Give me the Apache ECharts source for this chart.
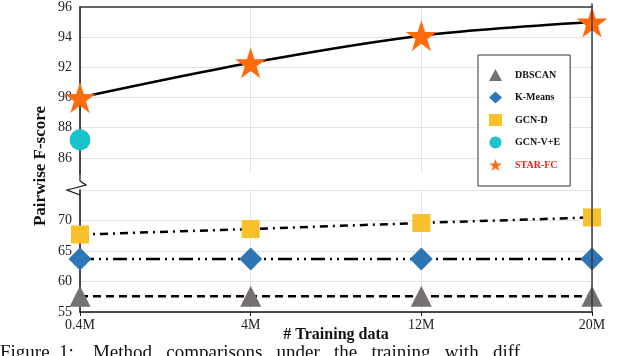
<!DOCTYPE html>
<html>
<head>
<meta charset="utf-8">
<script src="https://cdn.jsdelivr.net/npm/echarts@6/dist/echarts.min.js"></script>
<style>
  html, body { margin: 0; padding: 0; background: #fff; }
  #chart { width: 626px; height: 356px; }
</style>
</head>
<body>
<div id="chart"></div>
<script>
  var categories = ['0.4M', '4M', '12M', '20M'];
  var dbscan = [57.6, 57.6, 57.6, 57.6];
  var kmeans = [63.7, 63.7, 63.7, 63.7];
  var gcnD = [67.7, 68.6, 69.6, 70.5];
  var gcnVE = [87.2, null, null, null];
  var starFC = [90.0, 92.3, 94.1, 95.0];

  var serif = 'Liberation Serif';
  var star = 'path://M50,0 L61.8,35.1 L98.9,35.1 L68.9,56.8 L80.3,91.9 L50,70.2 L19.7,91.9 L31.1,56.8 L1.1,35.1 L38.2,35.1 Z';
  var frame = '#3a3a3a';
  var gridLine = '#e3e3e3';

  var myChart = echarts.init(document.getElementById('chart'));
  var option = {
    animation: false,
    grid: [
      { left: 80, right: 34, top: 3.5, height: 169.5 },
      { left: 80, right: 34, top: 190, height: 122 }
    ],
    xAxis: [
      {
        gridIndex: 0, type: 'category', data: categories, boundaryGap: false, position: 'top',
        axisLine: { lineStyle: { color: frame, width: 1.5 } },
        axisTick: { show: false }, axisLabel: { show: false },
        splitLine: { show: true, lineStyle: { color: gridLine } }
      },
      {
        gridIndex: 1, type: 'category', data: categories, boundaryGap: false,
        axisLine: { lineStyle: { color: '#111', width: 1.5 } },
        axisTick: { show: true, length: 4, lineStyle: { color: '#111' } },
        axisLabel: { fontFamily: serif, fontSize: 14, color: '#222', margin: 6 },
        splitLine: { show: true, lineStyle: { color: gridLine } },
        name: '# Training data', nameLocation: 'middle', nameGap: 15, nameMoveOverlap: false,
        nameTextStyle: { fontFamily: serif, fontSize: 16, fontWeight: 'bold', color: '#111' }
      }
    ],
    yAxis: [
      {
        gridIndex: 0, type: 'value', min: 85, max: 96, splitNumber: 6,
        axisLine: { show: true, lineStyle: { color: '#111', width: 1.5 } },
        axisTick: { show: false },
        axisLabel: {
          fontFamily: serif, fontSize: 14, color: '#222', margin: 8,
          formatter: function (v) { return v === 85 ? '' : v; }
        },
        splitLine: { show: true, showMinLine: false, lineStyle: { color: gridLine } }
      },
      {
        gridIndex: 1, type: 'value', min: 55, max: 75, interval: 5,
        axisLine: { show: true, lineStyle: { color: '#111', width: 1.5 } },
        axisTick: { show: false },
        axisLabel: {
          fontFamily: serif, fontSize: 14, color: '#222', margin: 8,
          formatter: function (v) { return v === 75 ? '' : v; }
        },
        splitLine: { show: true, lineStyle: { color: gridLine } }
      }
    ],
    legend: {
      orient: 'vertical', left: 478, top: 55,
      padding: [14, 10, 15, 11],
      itemWidth: 13, itemHeight: 12, itemGap: 10.5,
      backgroundColor: '#fff', borderColor: '#333', borderWidth: 1,
      textStyle: { fontFamily: serif, fontSize: 10, fontWeight: 'bold', color: '#111', padding: [0, 0, 0, 8] },
      data: [
        { name: 'DBSCAN', icon: 'triangle' },
        { name: 'K-Means', icon: 'diamond' },
        { name: 'GCN-D', icon: 'rect' },
        { name: 'GCN-V+E', icon: 'circle' },
        { name: 'STAR-FC', icon: star, textStyle: { color: '#ff1a1a' } }
      ]
    },
    graphic: [
      // axis break
      {
        type: 'polyline', z: 10,
        shape: { points: [[80, 172], [80, 181], [86, 185], [67, 190], [80, 195]] },
        style: { stroke: '#111', lineWidth: 1.2, fill: null }
      },
      // right frame
      {
        type: 'line', z: 10,
        shape: { x1: 592, y1: 3.5, x2: 592, y2: 312 },
        style: { stroke: frame, lineWidth: 1.5 }
      },
      {
        type: 'text', rotation: Math.PI / 2,
        x: 41, y: 166,
        style: {
          text: 'Pairwise F-score', font: 'bold 17px "Liberation Serif"', fill: '#111',
          align: 'center', verticalAlign: 'middle'
        }
      },
      {
        type: 'text', x: 0, y: 344,
        style: {
          text: 'Figure  1:    Method   comparisons   under   the   training   with   diff',
          font: '19px "Liberation Serif"', fill: '#111'
        }
      }
    ],
    series: [
      {
        name: 'DBSCAN', type: 'line', xAxisIndex: 1, yAxisIndex: 1, data: dbscan,
        symbol: 'triangle', symbolSize: 21,
        itemStyle: { color: '#767171' },
        lineStyle: { color: '#000', width: 2.5, type: [8, 5] }
      },
      {
        name: 'K-Means', type: 'line', xAxisIndex: 1, yAxisIndex: 1, data: kmeans,
        symbol: 'diamond', symbolSize: 23,
        itemStyle: { color: '#2e75b6' },
        lineStyle: { color: '#000', width: 2.5, type: [14, 5, 2, 5, 2, 5] }
      },
      {
        name: 'GCN-D', type: 'line', xAxisIndex: 1, yAxisIndex: 1, data: gcnD,
        symbol: 'rect', symbolSize: 18,
        itemStyle: { color: '#f8c12c' },
        lineStyle: { color: '#000', width: 2.5, type: [8, 5, 2, 5] }
      },
      {
        name: 'GCN-V+E', type: 'scatter', xAxisIndex: 0, yAxisIndex: 0, data: gcnVE,
        symbol: 'circle', symbolSize: 21,
        itemStyle: { color: '#17c4cc', opacity: 1 }
      },
      {
        name: 'STAR-FC', type: 'line', xAxisIndex: 0, yAxisIndex: 0, data: starFC,
        symbol: star, symbolSize: 31, smooth: 0.3,
        itemStyle: { color: '#ff6a0d' },
        lineStyle: { color: '#000', width: 2.5 }
      }
    ]
  };
  myChart.setOption(option);
</script>
</body>
</html>
